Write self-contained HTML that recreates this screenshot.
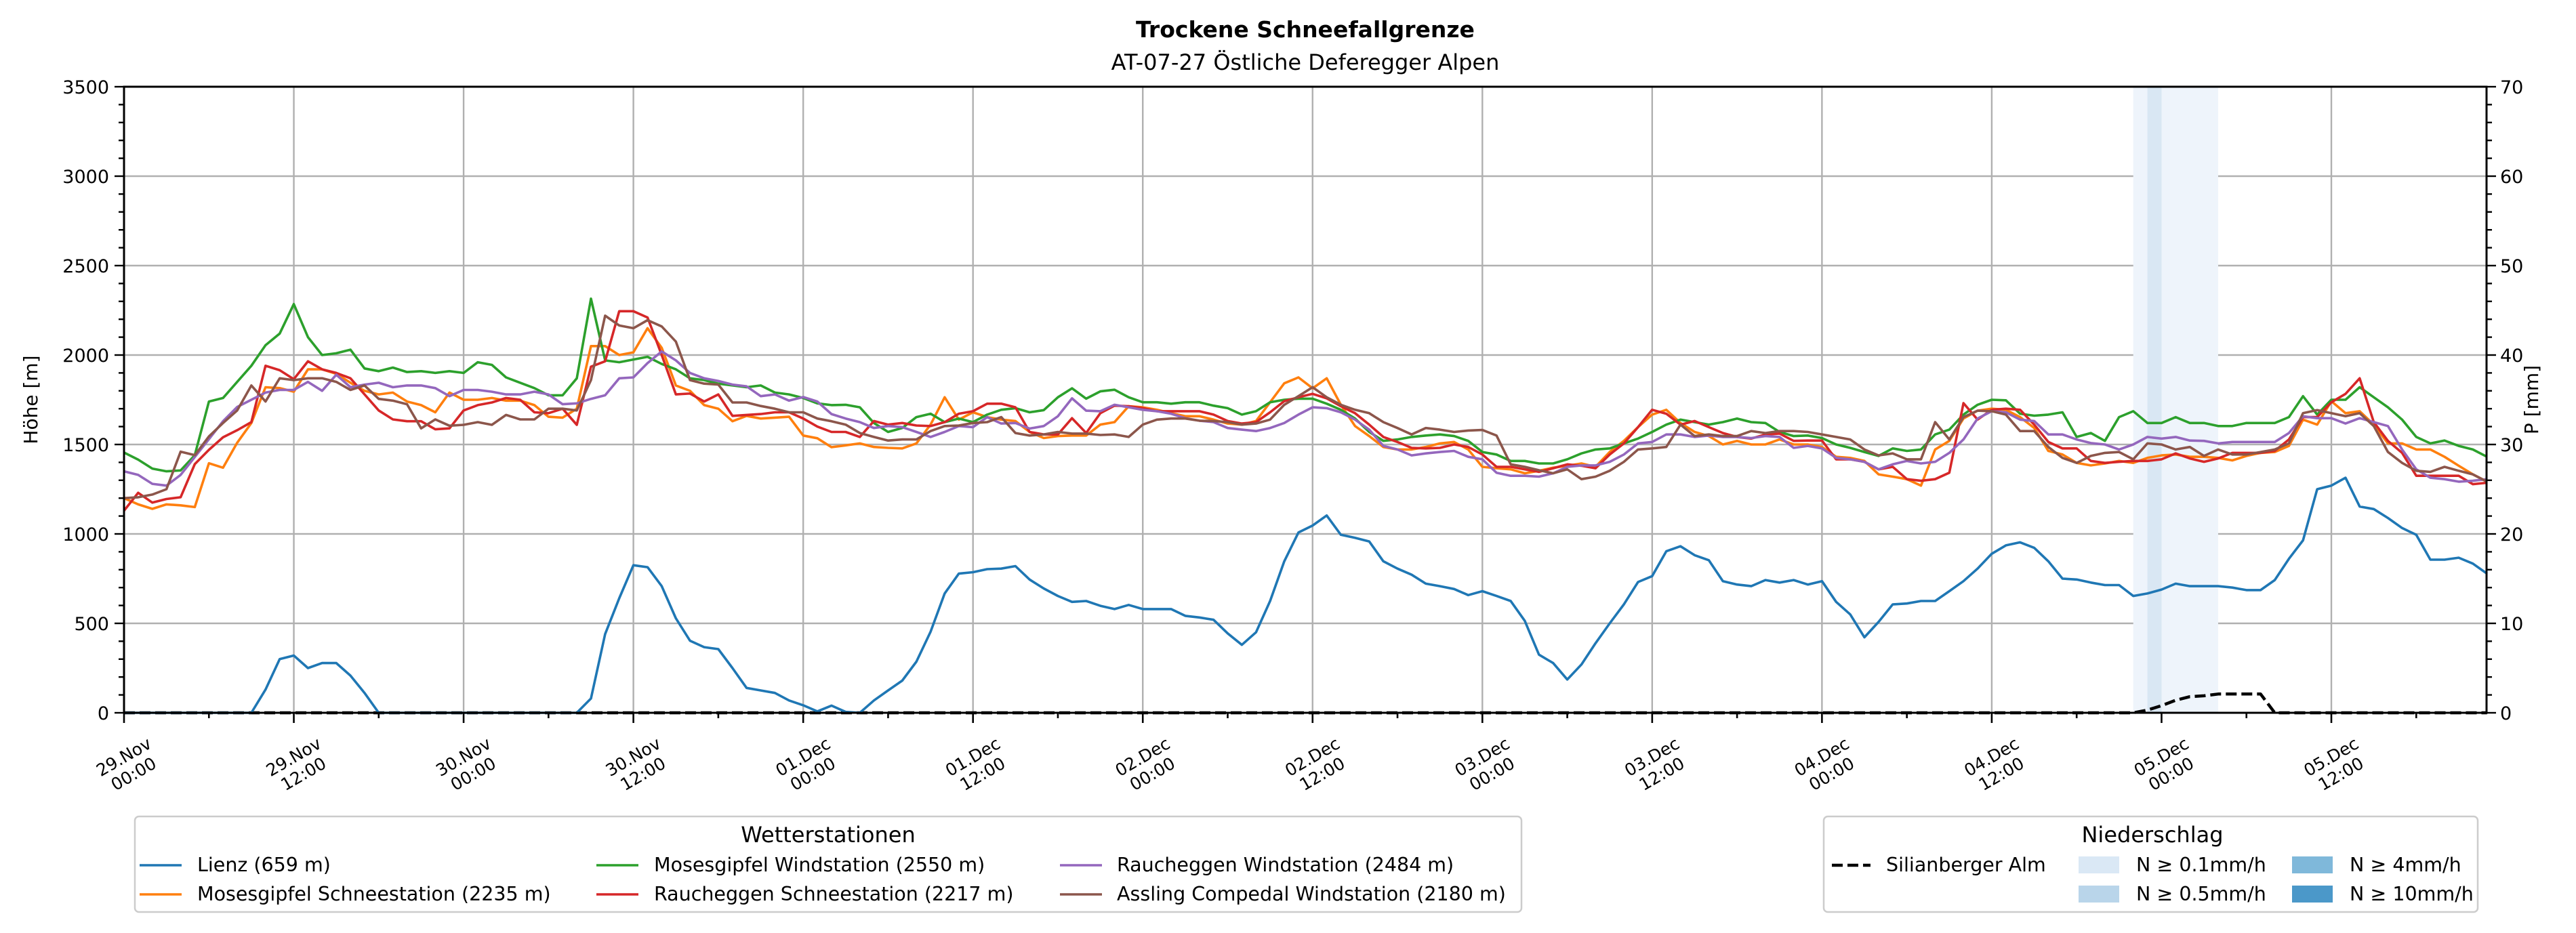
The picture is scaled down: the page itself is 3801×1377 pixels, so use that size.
<!DOCTYPE html>
<html><head><meta charset="utf-8"><style>
html,body{margin:0;padding:0;background:#fff;}
svg{display:block;font-family:"DejaVu Sans","Liberation Sans",sans-serif;}
</style></head><body>
<svg id="chart" width="3801" height="1377" viewBox="0 0 3801 1377" xmlns="http://www.w3.org/2000/svg">
<rect width="3801" height="1377" fill="#fff"/>
<text x="1926" y="55" text-anchor="middle" font-size="33" font-weight="bold">Trockene Schneefallgrenze</text>
<text x="1926" y="103" text-anchor="middle" font-size="32">AT-07-27 Östliche Deferegger Alpen</text>
<g id="grid"></g>
<g id="bands"></g>
<g id="series"></g>
<g id="axes"></g>
<text transform="translate(55,590) rotate(-90)" text-anchor="middle" font-size="28">Höhe [m]</text>
<text transform="translate(3745,590) rotate(-90)" text-anchor="middle" font-size="28">P [mm]</text>

<g>
<rect x="199" y="1205" width="2046" height="141" rx="6" fill="#fff" stroke="#cccccc" stroke-width="2.5"/>
<text x="1222" y="1243" text-anchor="middle" font-size="32">Wetterstationen</text>
<g><line x1="206" y1="1277" x2="268" y2="1277" stroke="#1f77b4" stroke-width="3.6"/><text x="291" y="1286" font-size="28.5">Lienz (659 m)</text></g>
<g><line x1="206" y1="1320" x2="268" y2="1320" stroke="#ff7f0e" stroke-width="3.6"/><text x="291" y="1329" font-size="28.5">Mosesgipfel Schneestation (2235 m)</text></g>
<g><line x1="880" y1="1277" x2="942" y2="1277" stroke="#2ca02c" stroke-width="3.6"/><text x="965" y="1286" font-size="28.5">Mosesgipfel Windstation (2550 m)</text></g>
<g><line x1="880" y1="1320" x2="942" y2="1320" stroke="#d62728" stroke-width="3.6"/><text x="965" y="1329" font-size="28.5">Raucheggen Schneestation (2217 m)</text></g>
<g><line x1="1564" y1="1277" x2="1626" y2="1277" stroke="#9467bd" stroke-width="3.6"/><text x="1648" y="1286" font-size="28.5">Raucheggen Windstation (2484 m)</text></g>
<g><line x1="1564" y1="1320" x2="1626" y2="1320" stroke="#8c564b" stroke-width="3.6"/><text x="1648" y="1329" font-size="28.5">Assling Compedal Windstation (2180 m)</text></g>
</g>

<g>
<rect x="2691" y="1205" width="965" height="141" rx="6" fill="#fff" stroke="#cccccc" stroke-width="2.5"/>
<text x="3176" y="1243" text-anchor="middle" font-size="32">Niederschlag</text>
<g><line x1="2703" y1="1277" x2="2760" y2="1277" stroke="#000" stroke-width="4.5" stroke-dasharray="16,7"/><text x="2783" y="1286" font-size="28.5">Silianberger Alm</text></g>
<g><rect x="3067" y="1264" width="60" height="25" fill="#dae8f5"/><text x="3152" y="1286" font-size="28.5">N ≥ 0.1mm/h</text></g>
<g><rect x="3067" y="1307" width="60" height="25" fill="#b9d5ea"/><text x="3152" y="1329" font-size="28.5">N ≥ 0.5mm/h</text></g>
<g><rect x="3382" y="1264" width="60" height="25" fill="#7fb8da"/><text x="3467" y="1286" font-size="28.5">N ≥ 4mm/h</text></g>
<g><rect x="3382" y="1307" width="60" height="25" fill="#4b98c9"/><text x="3467" y="1329" font-size="28.5">N ≥ 10mm/h</text></g>
</g>
</svg>
<script>
const xTickLabels = ["29.Nov|00:00","29.Nov|12:00","30.Nov|00:00","30.Nov|12:00","01.Dec|00:00","01.Dec|12:00","02.Dec|00:00","02.Dec|12:00","03.Dec|00:00","03.Dec|12:00","04.Dec|00:00","04.Dec|12:00","05.Dec|00:00","05.Dec|12:00"];
const yTicks = [0,500,1000,1500,2000,2500,3000,3500];
const y2Ticks = [0,10,20,30,40,50,60,70];
const bandLight = [142,148];
const bandDark = [143,144];
const lienz = [0,0,0,0,0,0,0,0,0,0,130,300,320,250,278,278,208,111,0,0,0,0,0,0,0,0,0,0,0,0,0,0,0,80,440,640,825,814,708,528,403,367,356,250,139,125,111,69,42,8,40,5,
0,69,125,180,286,453,667,778,786,803,806,820,745,695,653,620,625,598,580,603,580,580,580,542,533,520,444,380,450,625,847,1008,1047,1103,995,978,958,847,806,772,722,708,692,658,680,653,625,514,325,278,186,270,389,500,606,731,764,903,931,
881,853,736,717,708,742,728,742,717,736,620,550,422,508,606,611,625,625,680,736,806,889,936,953,922,847,750,745,728,714,714,653,667,689,722,708,708,708,700,686,686,742,861,964,1250,1270,1314,1153,1139,1089,1033,995,856,856,867,834,778];
const mosesSchnee = [1200,1165,1140,1165,1160,1150,1395,1370,1510,1620,1820,1815,1795,1920,1920,1895,1845,1800,1780,1790,1740,1720,1680,1790,1750,1750,1760,1745,1745,1720,1655,1650,1700,2050,2050,2000,2015,2150,2040,1830,1800,1720,1700,1630,1660,1645,1650,1655,1550,1535,1485,
1495,1506,1486,1481,1478,1506,1611,1764,1639,1680,1653,1639,1631,1570,1536,1547,1550,1550,1611,1625,1714,1708,1694,1675,1658,1658,1639,1617,1611,1631,1736,1842,1875,1814,1870,1722,1603,1547,1486,1472,1472,1486,1506,1514,1472,1375,1367,1361,1339,1353,1370,1381,1394,1375,1458,1520,1597,1667,1694,1620,
1570,1547,1500,1520,1500,1500,1528,1500,1500,1486,1431,1425,1408,1333,1320,1306,1270,1472,1520,1645,1689,1700,1694,1653,1592,1464,1444,1397,1383,1394,1408,1397,1425,1439,1444,1431,1431,1425,1411,1436,1453,1458,1492,1639,1611,1742,1675,1686,1611,1506,1506,1472,1472,1431,1381,1333,1292];
const mosesWind = [1455,1415,1365,1350,1355,1440,1740,1760,1850,1940,2055,2120,2285,2100,2000,2010,2030,1925,1910,1930,1905,1910,1900,1910,1900,1960,1945,1875,1845,1815,1775,1775,1870,2315,1970,1960,1975,1990,1950,1920,1870,1860,1840,1830,1820,1830,1790,1780,1760,1730,1720,
1722,1708,1620,1570,1592,1653,1672,1625,1645,1625,1667,1694,1703,1680,1692,1764,1814,1756,1797,1806,1764,1736,1736,1728,1736,1736,1717,1703,1667,1686,1736,1750,1756,1756,1728,1694,1645,1570,1520,1528,1542,1550,1556,1547,1520,1458,1444,1408,1408,1394,1394,1417,1450,1472,1478,1506,1533,1570,1611,1639,
1625,1611,1625,1645,1625,1620,1570,1547,1550,1536,1500,1481,1458,1436,1478,1464,1472,1556,1583,1667,1722,1750,1747,1672,1661,1667,1680,1542,1564,1520,1653,1686,1620,1620,1653,1620,1620,1603,1603,1620,1620,1620,1653,1770,1667,1750,1750,1820,1764,1708,1639,1542,1506,1522,1492,1472,1431];
const rauchSchnee = [1130,1230,1175,1195,1205,1390,1470,1540,1580,1625,1940,1915,1865,1965,1920,1900,1870,1780,1690,1640,1630,1630,1585,1590,1690,1720,1735,1760,1750,1680,1675,1700,1610,1935,1965,2245,2245,2210,2000,1780,1785,1740,1780,1660,1665,1670,1680,1680,1645,1600,1570,
1570,1542,1631,1611,1620,1606,1603,1625,1672,1686,1728,1728,1708,1570,1556,1556,1647,1564,1675,1717,1714,1703,1686,1686,1686,1686,1667,1631,1617,1625,1680,1742,1764,1783,1758,1714,1675,1611,1542,1514,1481,1478,1481,1500,1486,1444,1375,1375,1361,1347,1367,1389,1381,1367,1444,1506,1597,1694,1672,1611,
1631,1597,1564,1542,1533,1556,1561,1520,1522,1522,1417,1417,1403,1361,1375,1306,1297,1306,1342,1731,1639,1694,1700,1694,1611,1514,1478,1478,1408,1397,1403,1408,1408,1417,1450,1422,1403,1422,1453,1453,1453,1464,1528,1653,1653,1736,1783,1870,1625,1520,1453,1325,1325,1325,1325,1278,1286];
const rauchWind = [1350,1330,1280,1270,1330,1430,1530,1630,1710,1750,1790,1805,1805,1850,1800,1890,1820,1835,1845,1820,1830,1830,1815,1770,1805,1805,1795,1780,1780,1795,1780,1725,1730,1755,1775,1870,1875,1955,2020,1970,1900,1870,1855,1835,1825,1770,1780,1745,1765,1740,1670,
1645,1625,1592,1603,1597,1570,1542,1570,1603,1597,1653,1617,1620,1589,1603,1658,1758,1689,1686,1722,1708,1694,1686,1672,1647,1633,1625,1592,1583,1575,1592,1620,1667,1708,1703,1680,1639,1583,1492,1472,1439,1450,1458,1464,1431,1417,1342,1325,1325,1320,1339,1375,1383,1383,1403,1444,1506,1514,1556,1556,
1542,1550,1542,1542,1536,1547,1542,1481,1492,1478,1425,1417,1403,1361,1389,1408,1394,1403,1453,1528,1645,1686,1680,1639,1631,1556,1556,1528,1508,1500,1472,1500,1542,1533,1542,1522,1520,1506,1514,1514,1514,1514,1564,1658,1647,1647,1617,1647,1625,1603,1472,1361,1314,1306,1292,1297,1306];
const assling = [1200,1205,1220,1250,1460,1440,1545,1620,1690,1830,1740,1870,1860,1870,1870,1850,1805,1830,1755,1745,1725,1590,1640,1605,1610,1625,1610,1665,1640,1640,1700,1700,1690,1860,2220,2165,2150,2195,2160,2075,1860,1840,1835,1735,1735,1715,1700,1680,1680,1645,1630,
1611,1564,1542,1522,1528,1528,1575,1603,1606,1620,1625,1653,1564,1550,1556,1570,1561,1561,1553,1556,1542,1611,1639,1645,1645,1633,1631,1625,1611,1617,1639,1722,1770,1820,1764,1722,1694,1675,1625,1592,1556,1592,1583,1570,1578,1581,1550,1389,1375,1356,1339,1361,1306,1320,1353,1403,1472,1478,1486,1611,
1547,1556,1547,1547,1575,1564,1575,1575,1570,1556,1542,1528,1472,1439,1450,1417,1417,1625,1528,1653,1689,1686,1667,1575,1575,1486,1425,1397,1436,1453,1458,1417,1506,1500,1472,1486,1436,1472,1444,1444,1458,1472,1506,1675,1692,1675,1658,1675,1603,1458,1397,1353,1347,1375,1353,1333,1292];
const silianberger = [0,0,0,0,0,0,0,0,0,0,0,0,0,0,0,0,0,0,0,0,0,0,0,0,0,0,0,0,0,0,0,0,0,0,0,0,0,0,0,0,0,0,0,0,0,0,0,0,0,0,0,0,0,0,0,0,0,0,0,0,0,0,0,0,0,0,0,0,0,0,0,0,0,0,0,0,0,0,0,0,0,0,0,0,0,0,0,0,0,0,0,0,0,0,0,0,0,0,0,0,0,0,0,0,0,0,0,0,0,0,0,0,0,0,0,0,0,0,0,0,0,0,0,0,0,0,0,0,0,0,0,0,0,0,0,0,0,0,0,0,0,0,0,0.3,0.8,1.4,1.8,1.9,2.1,2.1,2.1,2.1,0,0,0,0,0,0,0,0,0,0,0,0,0,0,0,0];

const NS='http://www.w3.org/2000/svg';
const L=183,R=3669,T=128,B=1052,HOURS=167;
const HPX=(3440-183)/156;
const xs=h=>L+h*HPX;
const ys=v=>B-(v/3500)*(B-T);
const ys2=v=>B-(v/70)*(B-T);
function mk(tag,attrs,parent){const e=document.createElementNS(NS,tag);for(const k in attrs)e.setAttribute(k,attrs[k]);parent.appendChild(e);return e;}
const grid=document.getElementById('grid'),bands=document.getElementById('bands'),series=document.getElementById('series'),axes=document.getElementById('axes');

let b1=mk('rect',{x:xs(bandLight[0]),y:T,width:xs(bandLight[1])-xs(bandLight[0]),height:B-T,fill:'#eef4fb'},bands);


let b2=mk('rect',{x:xs(bandDark[0]),y:T,width:xs(bandDark[1])-xs(bandDark[0]),height:B-T,fill:'#d9e7f3'},bands);



yTicks.forEach(v=>{const g=mk('line',{x1:L,x2:R,y1:ys(v),y2:ys(v),stroke:'#b0b0b0','stroke-width':2.4},grid);

});
xTickLabels.forEach((s,i)=>{const g=mk('line',{x1:xs(i*12),x2:xs(i*12),y1:T,y2:B,stroke:'#b0b0b0','stroke-width':2.4},grid);

});

function line(arr,color,name,scale,dash,w){
  const pts=arr.map((v,i)=>xs(i).toFixed(1)+','+scale(v).toFixed(1)).join(' ');
  const p=mk('polyline',{points:pts,fill:'none',stroke:color,'stroke-width':w,'stroke-linejoin':'round'},series);
  if(dash)p.setAttribute('stroke-dasharray',dash);
  
  
}
line(silianberger,'#000','line-silianberger-alm',ys2,'16,7',4.5);
line(lienz,'#1f77b4','line-lienz',ys,null,3.6);
line(mosesSchnee,'#ff7f0e','line-mosesgipfel-schneestation',ys,null,3.6);
line(mosesWind,'#2ca02c','line-mosesgipfel-windstation',ys,null,3.6);
line(rauchSchnee,'#d62728','line-raucheggen-schneestation',ys,null,3.6);
line(rauchWind,'#9467bd','line-raucheggen-windstation',ys,null,3.6);
line(assling,'#8c564b','line-assling-compedal',ys,null,3.6);

const fr=mk('rect',{x:L,y:T,width:R-L,height:B-T,fill:'none',stroke:'#000','stroke-width':3},axes);


for(let v=0;v<=3500;v+=100){const maj=v%500===0;mk('line',{x1:L,x2:L-(maj?14:8),y1:ys(v),y2:ys(v),stroke:'#000','stroke-width':2.4},axes);}
for(let v=0;v<=70;v+=2){const maj=v%10===0;mk('line',{x1:R,x2:R+(maj?14:8),y1:ys2(v),y2:ys2(v),stroke:'#000','stroke-width':2.4},axes);}
yTicks.forEach(v=>{const t=mk('text',{x:L-22,y:ys(v)+10,'text-anchor':'end','font-size':27},axes);t.textContent=v;

});
y2Ticks.forEach(v=>{const t=mk('text',{x:R+20,y:ys2(v)+10,'font-size':27},axes);t.textContent=v;

});
for(let h=0;h<=HOURS;h+=6){const maj=h%12===0;mk('line',{x1:xs(h),x2:xs(h),y1:B,y2:B+(maj?15:8),stroke:'#000','stroke-width':2.6},axes);}
xTickLabels.forEach((s,i)=>{const [a,b]=s.split('|');const x=xs(i*12);
const t=mk('text',{transform:`translate(${x+6},1128) rotate(-30)`,'text-anchor':'middle','font-size':25},axes);
const t1=mk('tspan',{x:0,y:-4},t);t1.textContent=a;
const t2=mk('tspan',{x:0,y:25},t);t2.textContent=b;

});
</script>
</body></html>
